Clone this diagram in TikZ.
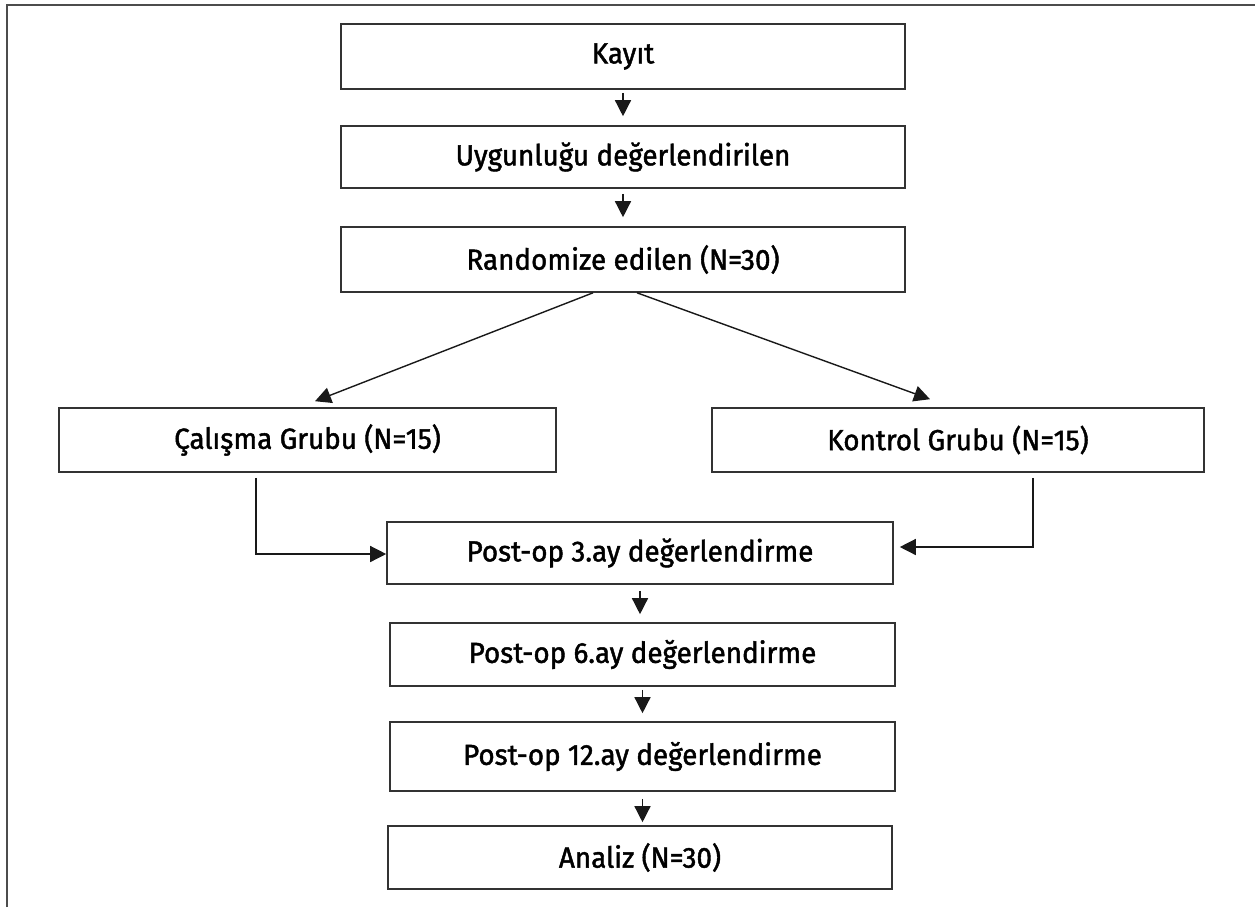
\documentclass[tikz,border=0pt]{standalone}
\usepackage{fontspec}
\setmainfont{Fira Sans}[FakeBold=1.5,FakeStretch=0.96]
\usepackage{tikz}
\usetikzlibrary{arrows.meta}
\definecolor{frm}{rgb}{0.3,0.3,0.3}
\definecolor{lne}{rgb}{0.2,0.2,0.2}

\begin{document}
\begin{tikzpicture}[x=0.5pt,y=-0.5pt,>={Triangle[length=8pt,width=8pt]},
  box/.style={draw=lne,line width=0.8pt,minimum height=#1*0.5pt,inner sep=0pt,font=\fontsize{14.5}{16}\selectfont},
  box/.default=64,
  lnk/.style={->,black!90,line width=0.7pt}]
\useasboundingbox (0,0) rectangle (1255,907);
\draw[frm,line width=1.2pt](7,907)--(7,5)--(1255,5);
\node[box=65,minimum width=282pt](kayit) at (623,56.5) {Kayıt};
\node[box=62,minimum width=282pt](uygun) at (623,157) {Uygunluğu değerlendirilen};
\node[box=65,minimum width=282pt](random) at (623,259.5) {Randomize edilen (N=30)};
\node[box=64,minimum width=248.5pt](calisma) at (307.5,440) {Çalışma Grubu (N=15)};
\node[box=64,minimum width=246pt](kontrol) at (958,440) {Kontrol Grubu (N=15)};
\node[box=62,minimum width=253pt](post3) at (640,553) {Post-op 3.ay değerlendirme};
\node[box=63,minimum width=252.5pt](post6) at (642.5,654.5) {Post-op 6.ay değerlendirme};
\node[box=69,minimum width=252.5pt](post12) at (642.5,756.5) {Post-op 12.ay değerlendirme};
\node[box=63,minimum width=252pt](analiz) at (640,857.5) {Analiz (N=30)};
\draw[lnk,shorten <=1.5pt,shorten >=4.5pt] (kayit) -- (uygun);
\draw[lnk,shorten <=2.5pt,shorten >=4.5pt] (uygun) -- (random);
\draw[lnk] ([xshift=-15pt]random.south) -- ([xshift=3.75pt,yshift=3pt]calisma.north);
\draw[lnk] ([xshift=7pt]random.south) -- ([xshift=-14pt,yshift=4pt]kontrol.north);
\draw[lnk] ([xshift=-25.75pt,yshift=-2.5pt]calisma.south) |- ([yshift=-0.5pt]post3.west);
\draw[lnk] ([xshift=37.5pt,yshift=-2.5pt]kontrol.south) |- ([xshift=3pt,yshift=3pt]post3.east);
\draw[lnk,shorten <=3pt,shorten >=4pt] (post3.south) -- (post6.north -| post3.south);
\draw[lnk,shorten <=1.5pt,shorten >=4pt] (post6.south) -- (post12.north -| post6.south);
\draw[lnk,shorten <=3.5pt,shorten >=1.5pt] (post12.south) -- (analiz.north -| post12.south);
\end{tikzpicture}
\end{document}
